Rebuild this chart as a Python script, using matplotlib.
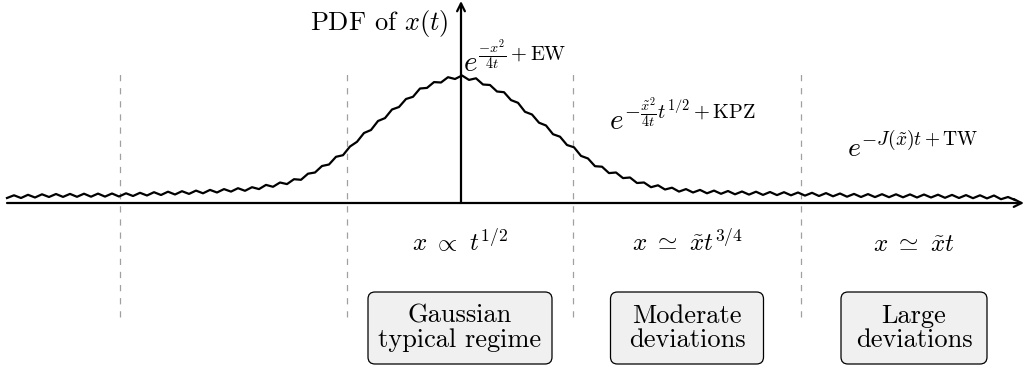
import numpy as np
import matplotlib.pyplot as plt
from matplotlib.patches import FancyBboxPatch

plt.rcParams['mathtext.fontset'] = 'cm'

# wiggly PDF curve: height above the x axis, one value every 7 units from x=7
curve_x = np.arange(7, 1016, 7)
curve_y = [5.0, 7.7, 5.0, 8.2, 5.5, 8.7, 6.0, 9.0, 6.1, 9.1,
           6.2, 9.3, 6.3, 9.4, 6.4, 9.5, 6.5, 9.7, 7.0, 10.2,
           7.5, 10.8, 8.0, 11.3, 8.5, 11.8, 9.1, 12.4, 9.7, 13.1,
           10.5, 13.9, 11.4, 14.8, 12.2, 15.8, 13.9, 18.1, 16.2, 20.5,
           18.9, 23.8, 23.2, 29.3, 30.5, 37.0, 38.5, 46.2, 47.8, 56.5,
           61.2, 70.0, 73.0, 82.0, 84.9, 93.5, 96.0, 104.0, 106.2, 114.5,
           115.1, 120.9, 120.5, 125.8, 124.0, 127.5, 123.1, 124.7, 118.5, 118.0,
           111.5, 110.8, 102.9, 100.2, 91.2, 88.5, 80.3, 77.5, 68.8, 66.3,
           58.0, 55.7, 47.1, 44.5, 36.8, 36.3, 29.9, 30.5, 24.9, 25.5,
           20.0, 20.5, 15.8, 17.7, 13.5, 15.3, 11.4, 13.9, 10.5, 13.1,
           9.7, 12.4, 9.2, 12.0, 8.7, 11.5, 8.4, 11.3, 8.1, 11.0,
           7.9, 10.8, 7.7, 10.5, 7.4, 10.2, 7.0, 9.9, 6.7, 9.5,
           6.3, 9.1, 6.0, 8.9, 5.9, 8.8, 5.8, 8.7, 5.7, 8.6,
           5.5, 8.5, 5.5, 8.3, 5.2, 8.1, 5.0, 7.9, 4.8, 7.7,
           4.6, 7.5, 3.8, 6.0, 3.0]

regime_edges = [120, 347, 573, 801]
regime_centers = [460, 687, 914]
scaling_labels = [r'$x\ \propto\ t^{1/2}$',
                  r'$x\ \simeq\ \tilde{x}t^{3/4}$',
                  r'$x\ \simeq\ \tilde{x}t$']
regime_names = ['Gaussian\ntypical regime', 'Moderate\ndeviations', 'Large\ndeviations']
box_widths = [184, 153, 146]

fig = plt.figure(figsize=(10.25, 3.68), dpi=100)
ax = fig.add_axes([0, 0, 1, 1])
ax.set_xlim(0, 1025)
ax.set_ylim(-165, 203)
ax.axis('off')

# regime separators
ax.vlines(regime_edges, -114, 134, colors='#a0a0a0', lw=0.9,
          linestyles=(0, (5, 5.5)))

# axes with arrows
arrow = dict(arrowstyle='->', lw=1.6, color='black', shrinkA=0, shrinkB=0,
             mutation_scale=14)
ax.annotate('', xy=(1024, 0), xytext=(7, 0), arrowprops=arrow)
ax.annotate('', xy=(461, 202), xytext=(461, 0), arrowprops=arrow)

ax.plot(curve_x, curve_y, color='black', lw=1.6)

ax.text(449, 173, r'PDF of $x(t)$', ha='right', va='baseline', fontsize=19,
        family='cmr10')

# tail forms
ax.text(463, 131, r'$e^{\frac{-x^2}{4t}+\mathrm{EW}}$', ha='left',
        va='baseline', fontsize=21)
ax.text(609, 73, r'$e^{-\frac{\tilde{x}^2}{4t}t^{1/2}+\mathrm{KPZ}}$',
        ha='left', va='baseline', fontsize=21)
ax.text(847, 46, r'$e^{-J(\tilde{x})t+\mathrm{TW}}$', ha='left',
        va='baseline', fontsize=20)

for cx, lab, name, w in zip(regime_centers, scaling_labels, regime_names, box_widths):
    ax.text(cx, -48, lab, ha='center', va='baseline', fontsize=18)
    ax.add_patch(FancyBboxPatch((cx - w / 2, -161), w, 72,
                                boxstyle='round,pad=0,rounding_size=7',
                                fc='#f0f0f0', ec='black', lw=0.9))
    ax.text(cx, -125, name, ha='center', va='center', fontsize=19,
            family='cmr10', linespacing=1.05)

fig.savefig('out.png', dpi=100)
